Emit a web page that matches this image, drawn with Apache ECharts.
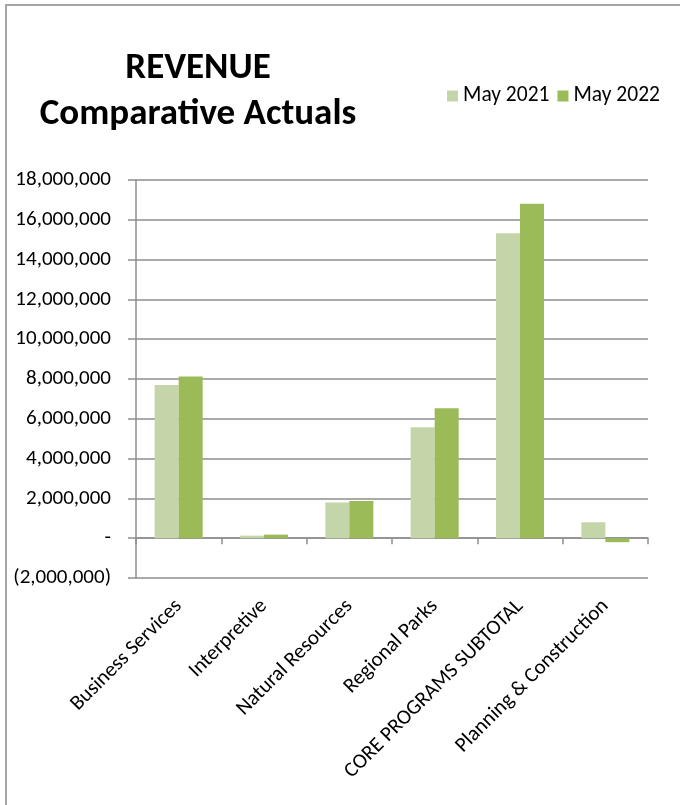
<!DOCTYPE html>
<html>
<head>
<meta charset="utf-8">
<script src="https://cdn.jsdelivr.net/npm/echarts@6/dist/echarts.min.js"></script>
<style>
  html, body { margin: 0; padding: 0; background: #fff; overflow: hidden; }
  .frame { position: absolute; left: 5px; top: 4px; width: 800px; height: 900px;
    border-left: 2px solid #a6a6a6; border-top: 2px solid #a6a6a6; }
  #chart { position: absolute; left: 0; top: 0; width: 680px; height: 805px; }
</style>
</head>
<body>
<div class="frame"></div>
<div id="chart"></div>
<script>
const categories = ["Business Services", "Interpretive", "Natural Resources", "Regional Parks", "CORE PROGRAMS SUBTOTAL", "Planning & Construction"];
const may2021 = [7700000, 130000, 1790000, 5580000, 15330000, 800000];
const may2022 = [8120000, 180000, 1870000, 6530000, 16810000, -200000];
const seriesNames = ["May 2021", "May 2022"];

const FONT = "Carlito, 'Liberation Sans', Arial, sans-serif";

const chart = echarts.init(document.getElementById("chart"));

// 0 shows as "-", negatives in brackets (accounting style)
const fmt = (v) => {
  if (v === 0) return "-";
  const s = Math.abs(v).toLocaleString("en-US");
  return v < 0 ? "(" + s + ")" : s;
};

const option = {
  animation: false,
  textStyle: { fontFamily: FONT },
  graphic: [
    {
      type: "text", x: 198, y: 68.5,
      style: { text: "REVENUE", font: "bold 37px " + FONT, fill: "#000", textAlign: "center", textVerticalAlign: "middle" }
    },
    {
      type: "text", x: 198, y: 114.5,
      style: { text: "Comparative Actuals", font: "bold 37px " + FONT, fill: "#000", textAlign: "center", textVerticalAlign: "middle" }
    }
  ],
  legend: {
    left: 442,
    top: 80,
    itemWidth: 11,
    itemHeight: 11,
    itemGap: 8,
    icon: "rect",
    textStyle: { fontSize: 21.5, color: "#000", fontFamily: FONT },
    data: seriesNames
  },
  grid: { left: 136, right: 32, top: 180, bottom: 227 },
  xAxis: {
    type: "category",
    data: categories,
    axisLine: { onZero: true, lineStyle: { color: "#8e8e8e", width: 1.5 } },
    axisTick: { show: true, length: 6, lineStyle: { color: "#8e8e8e", width: 1.5 } },
    axisLabel: { rotate: 45, margin: 25, interval: 0, fontSize: 21, color: "#000", fontFamily: FONT }
  },
  yAxis: {
    type: "value",
    min: -2000000,
    max: 18000000,
    interval: 2000000,
    axisLine: { show: true, lineStyle: { color: "#8e8e8e", width: 1.5 } },
    axisTick: { show: true, length: 8, lineStyle: { color: "#8e8e8e", width: 1.5 } },
    splitLine: { show: true, lineStyle: { color: "#8e8e8e", width: 1.5 } },
    axisLabel: { formatter: fmt, margin: 25, fontSize: 21, color: "#000", fontFamily: FONT }
  },
  series: [
    {
      name: seriesNames[0],
      type: "bar",
      data: may2021,
      barWidth: 24,
      barGap: "0%",
      itemStyle: { color: "#c4d6a9" }
    },
    {
      name: seriesNames[1],
      type: "bar",
      data: may2022,
      barWidth: 24,
      barGap: "0%",
      itemStyle: { color: "#9bbb59" }
    }
  ]
};

chart.setOption(option);
</script>
</body>
</html>
